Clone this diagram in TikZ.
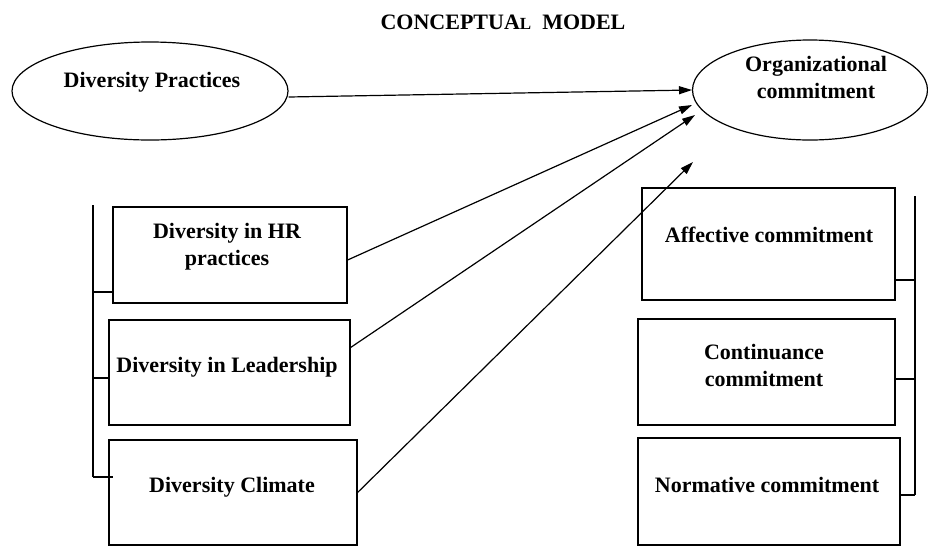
\documentclass[tikz,border=0pt]{standalone}
\usepackage{fontspec}
\setmainfont{Liberation Serif}
\usetikzlibrary{shapes.geometric,arrows.meta}
\begin{document}
\begin{tikzpicture}[x=1pt,y=-1pt,
  every node/.style={font=\fontsize{22}{27}\selectfont\bfseries},
  oval/.style={draw, ellipse, line width=1.2pt, inner sep=0pt},
  box/.style={draw, rectangle, line width=1.2pt, inner sep=0pt},
  txt/.style={align=center, inner sep=0pt},
  link/.style={line width=1.2pt, -{Triangle[length=13pt,width=8pt]}},
  bracket/.style={line width=1.2pt}]
\useasboundingbox (0,0) rectangle (928,547);

% title
\node[txt] (title) at (503,22) {CONCEPTUA{\fontsize{17}{20}\selectfont L}\ \ MODEL};

% constructs
\node[oval, minimum width=276pt, minimum height=98pt] (dp) at (150,91) {};
\node[txt] (dpt) at (152,82) {Diversity Practices};
\node[oval, minimum width=235pt, minimum height=100pt] (oc) at (810,90) {};
\node[txt] (oct) at (816,77) {Organizational\\commitment};

% dimensions of diversity practices
\node[box, minimum width=234pt, minimum height=96pt] (hr) at (230,255) {};
\node[txt] (hrt) at (227,247) {Diversity in HR\\practices};
\node[box, minimum width=241pt, minimum height=105pt] (lead) at (229.5,372.5) {};
\node[txt] (leadt) at (227,367) {Diversity in Leadership};
\node[box, minimum width=248pt, minimum height=105pt] (clim) at (233,492.5) {};
\node[txt] (climt) at (232,487) {Diversity Climate};

% dimensions of organizational commitment
\node[box, minimum width=253pt, minimum height=112pt] (aff) at (768.5,244) {};
\node[txt] (afft) at (769,235) {Affective commitment};
\node[box, minimum width=257pt, minimum height=106pt] (cont) at (766.5,372) {};
\node[txt] (contt) at (764,365.5) {Continuance\\commitment};
\node[box, minimum width=262pt, minimum height=107pt] (norm) at (769,491.5) {};
\node[txt] (normt) at (767,485) {Normative commitment};

% arrow tips near the outcome
\coordinate (t1) at (692,90);
\coordinate (t2) at (692,105);
\coordinate (t3) at (695,115);
\coordinate (t4) at (693,162);

\draw[link] ([yshift=-6pt]dp.east) -- (t1);
\draw[link] ([yshift=-5pt]hr.east) -- (t2);
\draw[link] ([yshift=25pt]lead.east) -- (t3);
\draw[link] (clim.east) -- (t4);

% left grouping bracket
\coordinate (lb1) at (93,205);
\coordinate (lb2) at (93,477);
\draw[bracket] (lb1) -- (lb2);
\draw[bracket] (93,292) -- (hr.west |- 0,292);
\draw[bracket] (93,378) -- (lead.west |- 0,378);
\draw[bracket] (lb2) -- (113,477);

% right grouping bracket
\coordinate (rb1) at (915,196);
\coordinate (rb2) at (915,495);
\draw[bracket] (rb1) -- (rb2);
\draw[bracket] (aff.east |- 0,280) -- (915,280);
\draw[bracket] (cont.east |- 0,379) -- (915,379);
\draw[bracket] (norm.east |- 0,495) -- (rb2);
\end{tikzpicture}
\end{document}
